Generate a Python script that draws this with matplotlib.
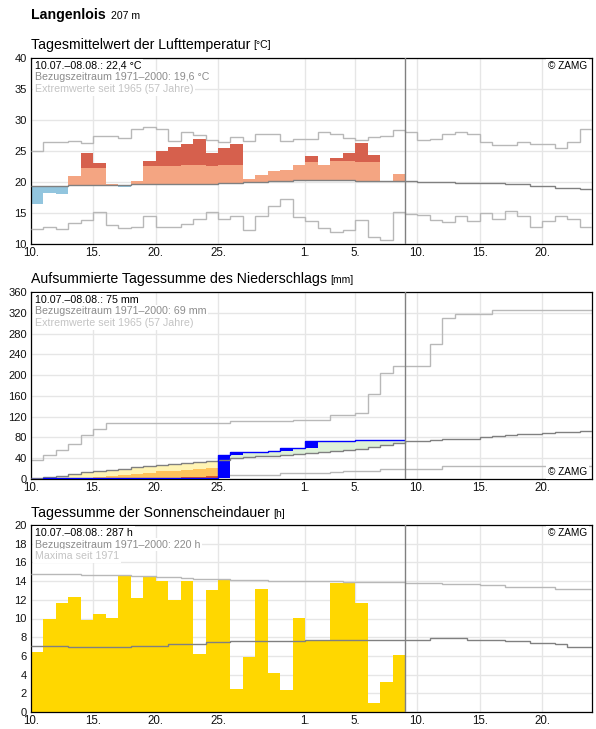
import numpy as np
import matplotlib.pyplot as plt

plt.rcParams['font.family'] = ['Liberation Sans', 'DejaVu Sans']

W, H = 596, 729

# day index 0 = 10.07., 44 = 23.08.; measured data 10.07.-08.08. (days 0..29)
tick_days = [0, 5, 10, 15, 22, 26, 31, 36, 41]
tick_labels = ['10.', '15.', '20.', '25.', '1.', '5.', '10.', '15.', '20.']
today = 30

# --- air temperature (daily mean, degC)
temp_obs = [16.4, 18.3, 18.1, 21.0, 24.7, 23.1, 19.7, 19.2, 20.2, 23.4,
            25.0, 25.6, 26.1, 27.0, 24.6, 25.5, 26.1, 20.5, 21.1, 21.8,
            21.9, 22.7, 24.2, 22.8, 23.9, 24.7, 26.3, 24.4, 20.0, 21.3]
temp_upper = [22.2, 22.2, 22.2, 22.3, 22.3, 22.3, 22.3, 22.3, 22.6, 22.6,
              22.6, 22.6, 22.7, 22.8, 22.6, 22.8, 22.8, 22.9, 22.9, 23.1,
              23.1, 23.3, 23.3, 23.3, 23.4, 23.4, 23.3, 23.3, 23.3, 23.3]
temp_ref = [19.3, 19.3, 19.3, 19.45, 19.45, 19.45, 19.45, 19.45, 19.6, 19.6,
            19.6, 19.6, 19.6, 19.6, 19.6, 19.8, 19.8, 19.95, 19.95, 20.1,
            20.1, 20.3, 20.3, 20.3, 20.3, 20.3, 20.2, 20.2, 20.2, 20.2,
            20.15, 20.0, 20.0, 20.0, 19.85, 19.85, 19.85, 19.85, 19.7, 19.7,
            19.35, 19.35, 19.05, 19.05, 18.8]
temp_max = [25.0, 26.5, 26.5, 26.6, 26.3, 27.4, 27.4, 27.1, 28.6, 28.9,
            28.6, 26.6, 28.1, 27.6, 26.8, 26.5, 27.2, 26.6, 27.8, 27.8,
            26.6, 26.9, 26.9, 28.1, 27.7, 27.1, 26.8, 27.3, 27.4, 28.4,
            28.1, 26.8, 26.9, 27.8, 28.1, 27.8, 26.5, 26.0, 26.0, 26.5,
            26.1, 26.1, 25.5, 26.4, 28.5]
temp_min = [12.5, 12.8, 12.5, 13.4, 13.9, 15.1, 13.1, 12.6, 12.8, 14.5,
            12.8, 12.8, 13.2, 14.1, 15.2, 14.0, 14.5, 12.2, 14.5, 16.1,
            17.3, 14.4, 13.7, 12.6, 11.9, 12.3, 13.9, 11.2, 10.6, 15.2,
            14.8, 14.6, 13.9, 13.5, 14.5, 13.7, 15.0, 14.1, 15.3, 14.5,
            12.8, 13.7, 14.5, 14.1, 12.8]

# --- precipitation (cumulative, mm)
precip_cum = [0.3, 1.0, 1.0, 1.0, 1.0, 1.0, 1.0, 1.0, 1.0, 1.0,
              1.3, 1.3, 1.5, 1.5, 1.5, 47.0, 52.9, 52.9, 52.9, 54.5,
              60.5, 60.5, 72.3, 72.3, 72.3, 72.3, 75.3, 75.3, 75.3, 75.3]
precip_ref = [2.0, 4.8, 5.0, 9.5, 13.0, 15.5, 17.5, 19.0, 22.5, 25.0,
              27.0, 29.0, 31.0, 33.0, 35.5, 37.4, 40.7, 42.0, 43.5, 45.0,
              46.5, 48.0, 49.7, 51.6, 54.2, 56.2, 58.2, 62.0, 64.6, 69.0,
              73.6, 73.6, 75.6, 77.5, 77.5, 77.5, 80.1, 82.0, 84.0, 85.9,
              85.9, 87.9, 90.4, 90.4, 92.4]
precip_max = [37, 46.5, 56, 68, 85, 97, 107, 107, 107, 107,
              107, 107, 107, 107, 107, 107, 111.5, 111.5, 111.5, 111.5,
              111.5, 114.5, 114.5, 114.5, 124, 124, 127, 163, 205, 217,
              217, 217, 260, 310, 316.7, 318.6, 318.6, 325.7, 325.7, 325.7,
              325.7, 325.7, 325.7, 325.7, 325.7]
precip_min = [0.3, 0.3, 0.3, 0.3, 0.3, 0.3, 0.3, 0.3, 0.3, 0.3,
              0.3, 0.3, 4, 4, 4, 8.3, 8.3, 8.3, 8.3, 8.3,
              11, 11, 11, 11, 13, 14.8, 14.8, 14.8, 18.7, 18.7,
              18.7, 18.7, 18.7, 25, 25, 25, 25, 25, 25, 25,
              25, 25, 25, 25, 25]
# deficit bands during the dry first half (days 0..14)
precip_dry_mid = [0, 0, 0, 0, 1.5, 3, 5.5, 8, 10, 12, 14.5, 16, 17.4, 18.7, 20.6]
precip_dry_low = [0, 0, 0, 0, 0, 0, 0, 0, 0, 0, 0, 0, 4, 4.5, 5]

# --- sunshine duration (h)
sun_obs = [6.4, 10.0, 11.65, 12.3, 9.85, 10.5, 10.1, 14.5, 12.2, 14.4,
           14.05, 11.95, 14.05, 6.2, 13.0, 14.2, 2.5, 5.9, 13.2, 4.15,
           2.4, 10.1, 7.7, 7.7, 13.85, 13.85, 11.7, 1.0, 3.2, 6.05]
sun_ref = [7.1, 7.1, 7.1, 6.95, 6.95, 6.95, 6.95, 6.95, 7.05, 7.05,
           7.1, 7.25, 7.25, 7.3, 7.45, 7.45, 7.55, 7.55, 7.55, 7.55,
           7.55, 7.55, 7.65, 7.65, 7.65, 7.65, 7.65, 7.65, 7.7, 7.7,
           7.75, 7.75, 7.9, 7.9, 7.9, 7.75, 7.75, 7.75, 7.55, 7.55,
           7.4, 7.4, 7.25, 6.95, 6.95]
sun_max = [14.8, 14.8, 14.8, 14.8, 14.7, 14.7, 14.6, 14.6, 14.55, 14.5,
           14.4, 14.4, 14.3, 14.25, 14.25, 14.25, 14.15, 14.15, 14.15, 14.05,
           14.05, 14.05, 14.05, 14.05, 14.05, 13.95, 13.95, 13.95, 13.95, 13.95,
           13.85, 13.85, 13.85, 13.7, 13.7, 13.7, 13.55, 13.55, 13.4, 13.4,
           13.4, 13.4, 13.2, 13.2, 13.2]

C_REF = '#808080'
C_EXT = '#b8b8b8'
C_GRID = '#e6e6e6'


def px(x, y):
    return x / W, 1 - y / H


def setup(ax, yticks, ylim):
    ax.set_xlim(0, 45)
    ax.set_ylim(*ylim)
    ax.set_yticks(yticks)
    ax.set_xticks(tick_days)
    ax.set_xticklabels(tick_labels)
    ax.tick_params(length=0, labelsize=8, pad=3, colors='#111111')
    ax.tick_params(axis='x', labelsize=8.3, pad=2.5)
    ax.grid(True, color=C_GRID, lw=1.0)
    ax.set_axisbelow(True)
    for s in ax.spines.values():
        s.set_linewidth(0.9)
        s.set_color('black')
    ax.axvline(today, color=C_REF, lw=1.0, zorder=4)


def info(ax, lines, zamg_top=True):
    cols = ['black', '#8c8c8c', '#c4c4c4']
    for i, (t, c) in enumerate(zip(lines, cols)):
        ax.annotate(t, xy=(0, 1), xycoords='axes fraction',
                    xytext=(4, -8 - 11.5 * i), textcoords='offset pixels',
                    ha='left', va='center', fontsize=7.7, color=c, zorder=6,
                    bbox=dict(fc='white', ec='none', pad=1.2))
    if zamg_top:
        ax.annotate('© ZAMG', xy=(1, 1), xycoords='axes fraction',
                    xytext=(-5, -8), textcoords='offset pixels',
                    ha='right', va='center', fontsize=7.2, zorder=6,
                    bbox=dict(fc='white', ec='none', pad=1.2))
    else:
        ax.annotate('© ZAMG', xy=(1, 0), xycoords='axes fraction',
                    xytext=(-5, 7), textcoords='offset pixels',
                    ha='right', va='center', fontsize=7.2, zorder=6,
                    bbox=dict(fc='white', ec='none', pad=1.2))


def title(fig, y, big, small, big_size=10.2, small_size=7.5, weight='normal', gap=3):
    t = fig.text(*px(31, y), big, fontsize=big_size, weight=weight, va='baseline')
    r = fig.canvas.get_renderer()
    bb = t.get_window_extent(renderer=r)
    fig.text((bb.x1 + gap) / W, 1 - y / H, small, fontsize=small_size, va='baseline')


fig = plt.figure(figsize=(W / 100, H / 100), dpi=100)

ax1 = fig.add_axes([31 / W, 1 - 244 / H, 561 / W, 186 / H])
ax2 = fig.add_axes([31 / W, 1 - 479 / H, 561 / W, 187 / H])
ax3 = fig.add_axes([31 / W, 1 - 712 / H, 561 / W, 187 / H])

title(fig, 19, 'Langenlois', '207 m', big_size=10.2, small_size=7.6, weight='bold', gap=5)
title(fig, 48.5, 'Tagesmittelwert der Lufttemperatur', '[°C]')
title(fig, 283.5, 'Aufsummierte Tagessumme des Niederschlags', '[mm]')
title(fig, 517, 'Tagessumme der Sonnenscheindauer', '[h]')

edges_all = np.arange(46)

# temperature
n = len(temp_obs)
e = np.arange(n + 1)
obs = np.array(temp_obs)
ref = np.array(temp_ref[:n])
upper = np.array(temp_upper)
setup(ax1, range(10, 41, 5), (10, 40))
ax1.stairs(np.minimum(obs, ref), e, baseline=ref, fill=True, color='#92c5de', lw=0, zorder=2)
ax1.stairs(np.minimum(np.maximum(obs, ref), upper), e, baseline=ref, fill=True,
           color='#f4a582', lw=0, zorder=2)
ax1.stairs(np.maximum(obs, upper), e, baseline=upper, fill=True, color='#d6604d', lw=0, zorder=2)
ax1.stairs(temp_max, edges_all, baseline=None, color=C_EXT, lw=1.0, zorder=3)
ax1.stairs(temp_min, edges_all, baseline=None, color=C_EXT, lw=1.0, zorder=3)
ax1.stairs(temp_ref, edges_all, baseline=None, color=C_REF, lw=1.0, zorder=3)
info(ax1, ['10.07.–08.08.: 22,4 °C', 'Bezugszeitraum 1971–2000: 19,6 °C',
           'Extremwerte seit 1965 (57 Jahre)'])

# precipitation
setup(ax2, range(0, 361, 40), (0, 360))
cum = np.array(precip_cum)
prev = np.r_[0, cum[:-1]]
pref = np.array(precip_ref[:n])
nd = len(precip_dry_mid)
ed = np.arange(nd + 1)
c_d = cum[:nd]
mid = np.maximum(c_d, precip_dry_mid)
low = np.maximum(c_d, precip_dry_low)
ax2.stairs(precip_max, edges_all, baseline=None, color=C_EXT, lw=1.0, zorder=2)
ax2.stairs(precip_min, edges_all, baseline=None, color=C_EXT, lw=1.0, zorder=2)
ax2.stairs(low, ed, baseline=c_d, fill=True, color='#dc5a28', lw=0, zorder=2.5)
ax2.stairs(mid, ed, baseline=low, fill=True, color='#fec35a', lw=0, zorder=2.5)
ax2.stairs(np.maximum(pref[:nd], mid), ed, baseline=mid, fill=True, color='#fff4b4', lw=0, zorder=2.5)
ax2.stairs(np.maximum(prev, pref), e, baseline=pref, fill=True, color='#ddf1d8', lw=0, zorder=2.5)
ax2.stairs(cum, e, baseline=prev, fill=True, color='#0000ff', lw=0, zorder=2.6)
ax2.stairs(precip_ref, edges_all, baseline=None, color=C_REF, lw=1.0, zorder=3)
ax2.stairs(cum, e, baseline=None, color='#0000ff', lw=1.0, zorder=3.1)
info(ax2, ['10.07.–08.08.: 75 mm', 'Bezugszeitraum 1971–2000: 69 mm',
           'Extremwerte seit 1965 (57 Jahre)'], zamg_top=False)

# sunshine
setup(ax3, range(0, 21, 2), (0, 20))
ax3.stairs(sun_obs, e, baseline=0, fill=True, color='#ffd700', lw=0, zorder=2)
ax3.stairs(sun_max, edges_all, baseline=None, color=C_EXT, lw=1.0, zorder=3)
ax3.stairs(sun_ref, edges_all, baseline=None, color=C_REF, lw=1.0, zorder=3)
info(ax3, ['10.07.–08.08.: 287 h', 'Bezugszeitraum 1971–2000: 220 h',
           'Maxima seit 1971'])

fig.savefig('out.png', dpi=100)
